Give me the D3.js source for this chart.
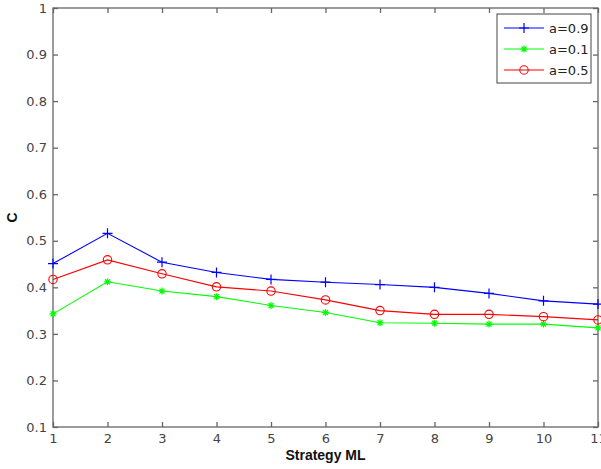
<!DOCTYPE html>
<html><head><meta charset="utf-8">
<script src="https://cdn.jsdelivr.net/npm/d3@7"></script>
<style>body{margin:0;background:#fff}svg{display:block}</style>
</head><body>
<svg id="c" width="601" height="469"></svg>
<script>
const categories = [1,2,3,4,5,6,7,8,9,10,11];
const a09 = [0.451,0.516,0.454,0.432,0.417,0.411,0.406,0.400,0.387,0.371,0.364];
const a01 = [0.343,0.412,0.392,0.380,0.361,0.346,0.324,0.323,0.321,0.321,0.313];
const a05 = [0.417,0.459,0.429,0.401,0.392,0.373,0.350,0.342,0.342,0.337,0.330];
const xTicks = [1,2,3,4,5,6,7,8,9,10,11];
const yTicks = [0.1,0.2,0.3,0.4,0.5,0.6,0.7,0.8,0.9,1];
const seriesNames = ["a=0.9","a=0.1","a=0.5"];

const svg = d3.select("#c");
const L=53,R=598,T=8,B=427;
const x = d3.scaleLinear().domain([1,11]).range([L,R]);
const y = d3.scaleLinear().domain([0.1,1]).range([B,T]);
const axisColor="#666";
const font="DejaVu Sans, sans-serif";

// box
svg.append("rect").attr("x",L).attr("y",T).attr("width",R-L).attr("height",B-T)
  .attr("fill","none").attr("stroke",axisColor).attr("stroke-width",1.3);

const tl=5;
const gx = svg.append("g").attr("transform",`translate(0,${B})`)
  .call(d3.axisBottom(x).tickValues(xTicks).tickSize(-tl).tickPadding(8).tickFormat(d3.format("d")));
const gxt = svg.append("g").attr("transform",`translate(0,${T})`)
  .call(d3.axisTop(x).tickValues(xTicks).tickSize(-tl).tickFormat(""));
const gy = svg.append("g").attr("transform",`translate(${L},0)`)
  .call(d3.axisLeft(y).tickValues(yTicks).tickSize(-tl).tickPadding(6).tickFormat(d=>d3.format("")(+d.toFixed(1))));
const gyr = svg.append("g").attr("transform",`translate(${R},0)`)
  .call(d3.axisRight(y).tickValues(yTicks).tickSize(-tl).tickFormat(""));
[gx,gxt,gy,gyr].forEach(g=>{
  g.select(".domain").remove();
  g.selectAll(".tick line").attr("stroke",axisColor).attr("stroke-width",1.3);
  g.selectAll(".tick text").attr("fill","#444").attr("font-family",font).attr("font-size",13);
});
gx.selectAll(".tick text").attr("dy","0.6em");

// labels
svg.append("text").attr("x",(L+R)/2).attr("y",460).attr("text-anchor","middle")
  .attr("font-family","Liberation Sans, Arial, sans-serif").attr("font-weight","bold").attr("font-size",14)
  .attr("fill","#111").text("Strategy ML");
svg.append("text").attr("transform",`translate(17,${(T+B)/2}) rotate(-90)`).attr("text-anchor","middle")
  .attr("font-family","Liberation Sans, Arial, sans-serif").attr("font-weight","bold").attr("font-size",14)
  .attr("fill","#111").text("C");

const line = d3.line().x((d,i)=>x(categories[i])).y(d=>y(d));
const series = [
  {name:seriesNames[0], vals:a09, color:"#0000ff", marker:"plus"},
  {name:seriesNames[1], vals:a01, color:"#00ff00", marker:"star"},
  {name:seriesNames[2], vals:a05, color:"#ff0000", marker:"circle"}
];
function drawMarker(g,type,cx,cy,color){
  if(type==="plus"){
    g.append("path").attr("d",`M${cx-5},${cy}H${cx+5}M${cx},${cy-5}V${cy+5}`).attr("stroke",color).attr("stroke-width",1.2).attr("fill","none");
  } else if(type==="star"){
    const r=3.5, d=2.5;
    g.append("path").attr("d",`M${cx-r},${cy}H${cx+r}M${cx},${cy-r}V${cy+r}M${cx-d},${cy-d}L${cx+d},${cy+d}M${cx-d},${cy+d}L${cx+d},${cy-d}`)
      .attr("stroke",color).attr("stroke-width",1.2).attr("fill","none");
  } else {
    g.append("circle").attr("cx",cx).attr("cy",cy).attr("r",4.2).attr("stroke",color).attr("stroke-width",1.1).attr("fill","none");
  }
}
const plot = svg.append("g");
series.forEach(s=>{
  plot.append("path").datum(s.vals).attr("d",line).attr("fill","none").attr("stroke",s.color).attr("stroke-width",1.1);
  s.vals.forEach((v,i)=>drawMarker(plot,s.marker,x(categories[i]),y(v),s.color));
});

// legend
const lg = svg.append("g");
lg.append("rect").attr("x",497).attr("y",14).attr("width",94).attr("height",69)
  .attr("fill","#fff").attr("stroke","#444").attr("stroke-width",1);
series.forEach((s,i)=>{
  const yy = 28 + i*21;
  lg.append("line").attr("x1",504).attr("x2",544).attr("y1",yy).attr("y2",yy).attr("stroke",s.color).attr("stroke-width",1.1);
  drawMarker(lg,s.marker,524,yy,s.color);
  lg.append("text").attr("x",549).attr("y",yy).attr("dy","0.35em").attr("font-family",font).attr("font-size",13)
    .attr("fill","#222").text(s.name);
});
</script>
</body></html>
